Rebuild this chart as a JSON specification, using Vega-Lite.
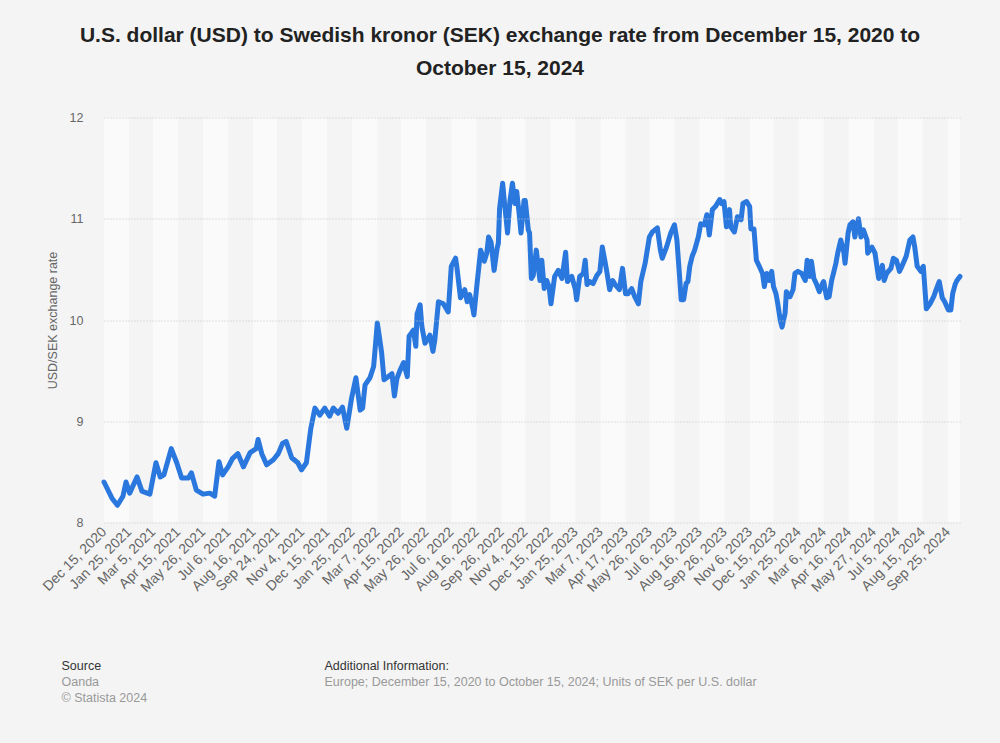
{
  "$schema": "https://vega.github.io/schema/vega-lite/v6.json",
  "width": 856,
  "height": 405,
  "autosize": {"type": "none"},
  "padding": {"left": 104, "top": 117.5, "right": 40, "bottom": 220.5},
  "background": "#f4f4f4",
  "config": {"view": {"stroke": null}, "font": "Liberation Sans"},
  "title": {
    "text": ["U.S. dollar (USD) to Swedish kronor (SEK) exchange rate from December 15, 2020 to", "October 15, 2024"],
    "fontSize": 21,
    "fontWeight": "bold",
    "color": "#222222",
    "anchor": "middle",
    "frame": "group",
    "dx": -32,
    "offset": 32.5,
    "lineHeight": 33,
    "font": "Liberation Sans"
  },
  "datasets": {
    "bands": [
      {"start": "2020-12-15", "end": "2021-01-25"},
      {"start": "2021-03-05", "end": "2021-04-15"},
      {"start": "2021-05-26", "end": "2021-07-06"},
      {"start": "2021-08-16", "end": "2021-09-24"},
      {"start": "2021-11-04", "end": "2021-12-15"},
      {"start": "2022-01-25", "end": "2022-03-07"},
      {"start": "2022-04-15", "end": "2022-05-26"},
      {"start": "2022-07-06", "end": "2022-08-16"},
      {"start": "2022-09-26", "end": "2022-11-04"},
      {"start": "2022-12-15", "end": "2023-01-25"},
      {"start": "2023-03-07", "end": "2023-04-17"},
      {"start": "2023-05-26", "end": "2023-07-06"},
      {"start": "2023-08-16", "end": "2023-09-26"},
      {"start": "2023-11-06", "end": "2023-12-15"},
      {"start": "2024-01-25", "end": "2024-03-06"},
      {"start": "2024-04-16", "end": "2024-05-27"},
      {"start": "2024-07-05", "end": "2024-08-15"},
      {"start": "2024-09-25", "end": "2024-10-15"}
    ],
    "rates": [
      {"date": "2020-12-15", "rate": 8.40}, {"date": "2020-12-28", "rate": 8.24}, {"date": "2021-01-06", "rate": 8.17},
      {"date": "2021-01-15", "rate": 8.26}, {"date": "2021-01-20", "rate": 8.40}, {"date": "2021-01-26", "rate": 8.29},
      {"date": "2021-02-07", "rate": 8.45}, {"date": "2021-02-15", "rate": 8.31}, {"date": "2021-02-28", "rate": 8.28},
      {"date": "2021-03-10", "rate": 8.59}, {"date": "2021-03-17", "rate": 8.45}, {"date": "2021-03-23", "rate": 8.47},
      {"date": "2021-04-04", "rate": 8.73}, {"date": "2021-04-13", "rate": 8.59}, {"date": "2021-04-21", "rate": 8.44},
      {"date": "2021-05-02", "rate": 8.44}, {"date": "2021-05-07", "rate": 8.49}, {"date": "2021-05-15", "rate": 8.32},
      {"date": "2021-05-26", "rate": 8.28}, {"date": "2021-06-06", "rate": 8.29}, {"date": "2021-06-14", "rate": 8.26},
      {"date": "2021-06-21", "rate": 8.60}, {"date": "2021-06-27", "rate": 8.47}, {"date": "2021-07-06", "rate": 8.55},
      {"date": "2021-07-13", "rate": 8.63}, {"date": "2021-07-22", "rate": 8.68}, {"date": "2021-07-31", "rate": 8.55},
      {"date": "2021-08-11", "rate": 8.69}, {"date": "2021-08-21", "rate": 8.73}, {"date": "2021-08-24", "rate": 8.82},
      {"date": "2021-08-30", "rate": 8.68}, {"date": "2021-09-07", "rate": 8.57}, {"date": "2021-09-18", "rate": 8.62},
      {"date": "2021-09-26", "rate": 8.68}, {"date": "2021-10-03", "rate": 8.78}, {"date": "2021-10-09", "rate": 8.80},
      {"date": "2021-10-18", "rate": 8.64}, {"date": "2021-10-28", "rate": 8.59}, {"date": "2021-11-03", "rate": 8.52},
      {"date": "2021-11-11", "rate": 8.59}, {"date": "2021-11-18", "rate": 8.92}, {"date": "2021-11-25", "rate": 9.13},
      {"date": "2021-12-03", "rate": 9.06}, {"date": "2021-12-11", "rate": 9.13}, {"date": "2021-12-19", "rate": 9.05},
      {"date": "2021-12-25", "rate": 9.13}, {"date": "2022-01-02", "rate": 9.08}, {"date": "2022-01-09", "rate": 9.14},
      {"date": "2022-01-16", "rate": 8.93}, {"date": "2022-01-24", "rate": 9.23}, {"date": "2022-01-31", "rate": 9.43},
      {"date": "2022-02-07", "rate": 9.11}, {"date": "2022-02-11", "rate": 9.13}, {"date": "2022-02-15", "rate": 9.36},
      {"date": "2022-02-23", "rate": 9.43}, {"date": "2022-03-01", "rate": 9.54}, {"date": "2022-03-07", "rate": 9.97},
      {"date": "2022-03-10", "rate": 9.85}, {"date": "2022-03-14", "rate": 9.68}, {"date": "2022-03-18", "rate": 9.41},
      {"date": "2022-03-31", "rate": 9.47}, {"date": "2022-04-04", "rate": 9.25}, {"date": "2022-04-08", "rate": 9.42},
      {"date": "2022-04-13", "rate": 9.50}, {"date": "2022-04-19", "rate": 9.58}, {"date": "2022-04-25", "rate": 9.44},
      {"date": "2022-04-28", "rate": 9.84}, {"date": "2022-05-05", "rate": 9.90}, {"date": "2022-05-09", "rate": 9.74},
      {"date": "2022-05-11", "rate": 10.06}, {"date": "2022-05-16", "rate": 10.15}, {"date": "2022-05-19", "rate": 9.93},
      {"date": "2022-05-24", "rate": 9.77}, {"date": "2022-06-01", "rate": 9.85}, {"date": "2022-06-06", "rate": 9.69},
      {"date": "2022-06-09", "rate": 9.80}, {"date": "2022-06-15", "rate": 10.18}, {"date": "2022-06-23", "rate": 10.16},
      {"date": "2022-07-01", "rate": 10.08}, {"date": "2022-07-06", "rate": 10.53}, {"date": "2022-07-13", "rate": 10.61},
      {"date": "2022-07-15", "rate": 10.53}, {"date": "2022-07-21", "rate": 10.22}, {"date": "2022-07-28", "rate": 10.30},
      {"date": "2022-08-01", "rate": 10.18}, {"date": "2022-08-05", "rate": 10.25}, {"date": "2022-08-10", "rate": 10.12},
      {"date": "2022-08-12", "rate": 10.05}, {"date": "2022-08-17", "rate": 10.35}, {"date": "2022-08-23", "rate": 10.69},
      {"date": "2022-08-29", "rate": 10.58}, {"date": "2022-09-02", "rate": 10.66}, {"date": "2022-09-05", "rate": 10.82},
      {"date": "2022-09-09", "rate": 10.77}, {"date": "2022-09-14", "rate": 10.49}, {"date": "2022-09-19", "rate": 10.71},
      {"date": "2022-09-21", "rate": 10.76}, {"date": "2022-09-23", "rate": 11.10}, {"date": "2022-09-28", "rate": 11.35},
      {"date": "2022-09-30", "rate": 11.22}, {"date": "2022-10-06", "rate": 10.86}, {"date": "2022-10-10", "rate": 11.18},
      {"date": "2022-10-14", "rate": 11.35}, {"date": "2022-10-18", "rate": 11.15}, {"date": "2022-10-21", "rate": 11.27},
      {"date": "2022-10-25", "rate": 11.05}, {"date": "2022-10-28", "rate": 10.86}, {"date": "2022-11-02", "rate": 11.18},
      {"date": "2022-11-04", "rate": 11.18}, {"date": "2022-11-09", "rate": 10.89}, {"date": "2022-11-11", "rate": 10.86},
      {"date": "2022-11-14", "rate": 10.41}, {"date": "2022-11-17", "rate": 10.44}, {"date": "2022-11-22", "rate": 10.69},
      {"date": "2022-11-28", "rate": 10.39}, {"date": "2022-12-01", "rate": 10.59}, {"date": "2022-12-05", "rate": 10.31},
      {"date": "2022-12-09", "rate": 10.39}, {"date": "2022-12-13", "rate": 10.33}, {"date": "2022-12-16", "rate": 10.16},
      {"date": "2022-12-22", "rate": 10.43}, {"date": "2022-12-28", "rate": 10.49}, {"date": "2023-01-03", "rate": 10.41},
      {"date": "2023-01-09", "rate": 10.67}, {"date": "2023-01-12", "rate": 10.38}, {"date": "2023-01-19", "rate": 10.43},
      {"date": "2023-01-25", "rate": 10.30}, {"date": "2023-01-27", "rate": 10.20}, {"date": "2023-02-01", "rate": 10.43},
      {"date": "2023-02-07", "rate": 10.46}, {"date": "2023-02-10", "rate": 10.59}, {"date": "2023-02-13", "rate": 10.35},
      {"date": "2023-02-17", "rate": 10.38}, {"date": "2023-02-23", "rate": 10.36}, {"date": "2023-03-01", "rate": 10.44},
      {"date": "2023-03-06", "rate": 10.48}, {"date": "2023-03-10", "rate": 10.72}, {"date": "2023-03-14", "rate": 10.59},
      {"date": "2023-03-17", "rate": 10.49}, {"date": "2023-03-22", "rate": 10.30}, {"date": "2023-03-27", "rate": 10.39},
      {"date": "2023-03-31", "rate": 10.35}, {"date": "2023-04-07", "rate": 10.30}, {"date": "2023-04-12", "rate": 10.51},
      {"date": "2023-04-17", "rate": 10.26}, {"date": "2023-04-21", "rate": 10.26}, {"date": "2023-04-27", "rate": 10.31},
      {"date": "2023-05-02", "rate": 10.23}, {"date": "2023-05-08", "rate": 10.16}, {"date": "2023-05-12", "rate": 10.38},
      {"date": "2023-05-19", "rate": 10.56}, {"date": "2023-05-26", "rate": 10.82}, {"date": "2023-05-31", "rate": 10.87},
      {"date": "2023-06-08", "rate": 10.91}, {"date": "2023-06-13", "rate": 10.69}, {"date": "2023-06-16", "rate": 10.61},
      {"date": "2023-06-23", "rate": 10.72}, {"date": "2023-06-30", "rate": 10.86}, {"date": "2023-07-06", "rate": 10.94},
      {"date": "2023-07-10", "rate": 10.79}, {"date": "2023-07-14", "rate": 10.46}, {"date": "2023-07-17", "rate": 10.20},
      {"date": "2023-07-21", "rate": 10.20}, {"date": "2023-07-25", "rate": 10.36}, {"date": "2023-07-28", "rate": 10.38},
      {"date": "2023-07-31", "rate": 10.53}, {"date": "2023-08-04", "rate": 10.63}, {"date": "2023-08-08", "rate": 10.69},
      {"date": "2023-08-14", "rate": 10.82}, {"date": "2023-08-18", "rate": 10.95}, {"date": "2023-08-24", "rate": 10.94},
      {"date": "2023-08-28", "rate": 11.04}, {"date": "2023-09-01", "rate": 10.84}, {"date": "2023-09-06", "rate": 11.09},
      {"date": "2023-09-11", "rate": 11.12}, {"date": "2023-09-18", "rate": 11.19}, {"date": "2023-09-21", "rate": 11.15},
      {"date": "2023-09-25", "rate": 11.17}, {"date": "2023-09-29", "rate": 10.92}, {"date": "2023-10-04", "rate": 11.09},
      {"date": "2023-10-06", "rate": 10.92}, {"date": "2023-10-12", "rate": 10.87}, {"date": "2023-10-17", "rate": 11.02},
      {"date": "2023-10-23", "rate": 10.99}, {"date": "2023-10-26", "rate": 11.15}, {"date": "2023-11-01", "rate": 11.17},
      {"date": "2023-11-06", "rate": 11.12}, {"date": "2023-11-08", "rate": 10.90}, {"date": "2023-11-13", "rate": 10.90},
      {"date": "2023-11-17", "rate": 10.59}, {"date": "2023-11-21", "rate": 10.54}, {"date": "2023-11-27", "rate": 10.46},
      {"date": "2023-11-30", "rate": 10.33}, {"date": "2023-12-04", "rate": 10.46}, {"date": "2023-12-08", "rate": 10.39},
      {"date": "2023-12-12", "rate": 10.48}, {"date": "2023-12-15", "rate": 10.33}, {"date": "2023-12-19", "rate": 10.26},
      {"date": "2023-12-22", "rate": 10.16}, {"date": "2023-12-26", "rate": 10.00}, {"date": "2023-12-29", "rate": 9.93},
      {"date": "2024-01-03", "rate": 10.07}, {"date": "2024-01-05", "rate": 10.28}, {"date": "2024-01-11", "rate": 10.23},
      {"date": "2024-01-16", "rate": 10.30}, {"date": "2024-01-19", "rate": 10.46}, {"date": "2024-01-24", "rate": 10.48},
      {"date": "2024-01-30", "rate": 10.46}, {"date": "2024-02-05", "rate": 10.39}, {"date": "2024-02-08", "rate": 10.59},
      {"date": "2024-02-12", "rate": 10.43}, {"date": "2024-02-15", "rate": 10.58}, {"date": "2024-02-19", "rate": 10.41},
      {"date": "2024-02-23", "rate": 10.36}, {"date": "2024-02-28", "rate": 10.28}, {"date": "2024-03-04", "rate": 10.36},
      {"date": "2024-03-06", "rate": 10.38}, {"date": "2024-03-11", "rate": 10.22}, {"date": "2024-03-15", "rate": 10.23},
      {"date": "2024-03-19", "rate": 10.39}, {"date": "2024-03-22", "rate": 10.46}, {"date": "2024-03-26", "rate": 10.56},
      {"date": "2024-03-29", "rate": 10.66}, {"date": "2024-04-03", "rate": 10.79}, {"date": "2024-04-08", "rate": 10.67},
      {"date": "2024-04-10", "rate": 10.56}, {"date": "2024-04-15", "rate": 10.86}, {"date": "2024-04-18", "rate": 10.94},
      {"date": "2024-04-23", "rate": 10.97}, {"date": "2024-04-26", "rate": 10.82}, {"date": "2024-05-02", "rate": 11.00},
      {"date": "2024-05-06", "rate": 10.82}, {"date": "2024-05-10", "rate": 10.89}, {"date": "2024-05-16", "rate": 10.79},
      {"date": "2024-05-17", "rate": 10.66}, {"date": "2024-05-24", "rate": 10.72}, {"date": "2024-05-29", "rate": 10.66},
      {"date": "2024-06-04", "rate": 10.41}, {"date": "2024-06-10", "rate": 10.54}, {"date": "2024-06-13", "rate": 10.39},
      {"date": "2024-06-17", "rate": 10.46}, {"date": "2024-06-24", "rate": 10.51}, {"date": "2024-06-28", "rate": 10.61},
      {"date": "2024-07-03", "rate": 10.59}, {"date": "2024-07-08", "rate": 10.48}, {"date": "2024-07-12", "rate": 10.53},
      {"date": "2024-07-19", "rate": 10.63}, {"date": "2024-07-25", "rate": 10.79}, {"date": "2024-07-30", "rate": 10.82},
      {"date": "2024-08-02", "rate": 10.72}, {"date": "2024-08-06", "rate": 10.53}, {"date": "2024-08-12", "rate": 10.48},
      {"date": "2024-08-16", "rate": 10.53}, {"date": "2024-08-21", "rate": 10.11}, {"date": "2024-08-27", "rate": 10.16},
      {"date": "2024-09-02", "rate": 10.23}, {"date": "2024-09-06", "rate": 10.30}, {"date": "2024-09-11", "rate": 10.38},
      {"date": "2024-09-16", "rate": 10.22}, {"date": "2024-09-20", "rate": 10.18}, {"date": "2024-09-26", "rate": 10.10},
      {"date": "2024-09-30", "rate": 10.10}, {"date": "2024-10-03", "rate": 10.26}, {"date": "2024-10-07", "rate": 10.35},
      {"date": "2024-10-10", "rate": 10.39}, {"date": "2024-10-15", "rate": 10.43}
    ]
  },
  "resolve": {"axis": {"x": "independent"}},
  "layer": [
    {
      "data": {"name": "bands"},
      "mark": {"type": "rect", "fill": "#fafafa"},
      "encoding": {
        "x": {
          "field": "start",
          "type": "temporal",
          "scale": {"type": "utc", "domain": [{"year": 2020, "month": 12, "date": 15, "utc": true}, {"year": 2024, "month": 10, "date": 15, "utc": true}], "nice": false},
          "axis": {
            "orient": "bottom",
            "values": [
              {"year": 2020, "month": 12, "date": 15, "utc": true},
              {"year": 2021, "month": 1, "date": 25, "utc": true},
              {"year": 2021, "month": 3, "date": 5, "utc": true},
              {"year": 2021, "month": 4, "date": 15, "utc": true},
              {"year": 2021, "month": 5, "date": 26, "utc": true},
              {"year": 2021, "month": 7, "date": 6, "utc": true},
              {"year": 2021, "month": 8, "date": 16, "utc": true},
              {"year": 2021, "month": 9, "date": 24, "utc": true},
              {"year": 2021, "month": 11, "date": 4, "utc": true},
              {"year": 2021, "month": 12, "date": 15, "utc": true},
              {"year": 2022, "month": 1, "date": 25, "utc": true},
              {"year": 2022, "month": 3, "date": 7, "utc": true},
              {"year": 2022, "month": 4, "date": 15, "utc": true},
              {"year": 2022, "month": 5, "date": 26, "utc": true},
              {"year": 2022, "month": 7, "date": 6, "utc": true},
              {"year": 2022, "month": 8, "date": 16, "utc": true},
              {"year": 2022, "month": 9, "date": 26, "utc": true},
              {"year": 2022, "month": 11, "date": 4, "utc": true},
              {"year": 2022, "month": 12, "date": 15, "utc": true},
              {"year": 2023, "month": 1, "date": 25, "utc": true},
              {"year": 2023, "month": 3, "date": 7, "utc": true},
              {"year": 2023, "month": 4, "date": 17, "utc": true},
              {"year": 2023, "month": 5, "date": 26, "utc": true},
              {"year": 2023, "month": 7, "date": 6, "utc": true},
              {"year": 2023, "month": 8, "date": 16, "utc": true},
              {"year": 2023, "month": 9, "date": 26, "utc": true},
              {"year": 2023, "month": 11, "date": 6, "utc": true},
              {"year": 2023, "month": 12, "date": 15, "utc": true},
              {"year": 2024, "month": 1, "date": 25, "utc": true},
              {"year": 2024, "month": 3, "date": 6, "utc": true},
              {"year": 2024, "month": 4, "date": 16, "utc": true},
              {"year": 2024, "month": 5, "date": 27, "utc": true},
              {"year": 2024, "month": 7, "date": 5, "utc": true},
              {"year": 2024, "month": 8, "date": 15, "utc": true},
              {"year": 2024, "month": 9, "date": 25, "utc": true}
            ],
            "format": "%b %-d, %Y",
            "labelAngle": -45,
            "labelFontSize": 14,
            "labelColor": "#666666",
            "labelPadding": 2,
            "labelOffset": -5,
            "labelOverlap": false,
            "labelFlush": false,
            "labelBound": false,
            "ticks": false,
            "domain": false,
            "grid": false,
            "title": "Source",
            "titleX": -43,
            "titleY": 147,
            "titleAlign": "left",
            "titleAnchor": null,
            "titleBaseline": "alphabetic",
            "titleFontSize": 12.5,
            "titleFontWeight": "normal",
            "titleColor": "#333333"
          }
        },
        "x2": {"field": "end"}
      }
    },
    {
      "data": {"name": "rates"},
      "mark": {"type": "line", "color": "#2a77de", "strokeWidth": 5, "strokeJoin": "round", "strokeCap": "round"},
      "encoding": {
        "x": {
          "field": "date",
          "type": "temporal",
          "axis": {
            "orient": "bottom",
            "labels": false,
            "ticks": false,
            "domain": false,
            "grid": false,
            "title": ["Oanda", "© Statista 2024"],
            "titleX": -43,
            "titleY": 163,
            "titleAlign": "left",
            "titleAnchor": null,
            "titleBaseline": "alphabetic",
            "titleLineHeight": 15.5,
            "titleFontSize": 12.5,
            "titleFontWeight": "normal",
            "titleColor": "#999999"
          }
        },
        "y": {
          "field": "rate",
          "type": "quantitative",
          "scale": {"domain": [8, 12], "nice": false, "zero": false},
          "axis": {
            "values": [8, 9, 10, 11, 12],
            "grid": true,
            "gridDash": [1, 2],
            "gridColor": "#c4c4c4",
            "gridWidth": 1,
            "domain": false,
            "ticks": false,
            "zindex": 1,
            "labelPadding": 21,
            "labelFontSize": 12.5,
            "labelColor": "#666666",
            "title": "USD/SEK exchange rate",
            "titleFontSize": 12.5,
            "titleColor": "#666666",
            "titleFontWeight": "normal",
            "titlePadding": 10
          }
        }
      }
    },
    {
      "data": {"name": "bands"},
      "mark": {"type": "point", "opacity": 0},
      "encoding": {
        "x": {
          "field": "start",
          "type": "temporal",
          "axis": {
            "orient": "bottom",
            "labels": false,
            "ticks": false,
            "domain": false,
            "grid": false,
            "title": "Additional Information:",
            "titleX": 220,
            "titleY": 147,
            "titleAlign": "left",
            "titleAnchor": null,
            "titleBaseline": "alphabetic",
            "titleFontSize": 12.5,
            "titleFontWeight": "normal",
            "titleColor": "#333333"
          }
        }
      }
    },
    {
      "data": {"name": "bands"},
      "mark": {"type": "point", "opacity": 0},
      "encoding": {
        "x": {
          "field": "end",
          "type": "temporal",
          "axis": {
            "orient": "bottom",
            "labels": false,
            "ticks": false,
            "domain": false,
            "grid": false,
            "title": "Europe; December 15, 2020 to October 15, 2024; Units of SEK per U.S. dollar",
            "titleX": 220,
            "titleY": 163,
            "titleAlign": "left",
            "titleAnchor": null,
            "titleBaseline": "alphabetic",
            "titleFontSize": 12.5,
            "titleFontWeight": "normal",
            "titleColor": "#999999"
          }
        }
      }
    }
  ]
}
